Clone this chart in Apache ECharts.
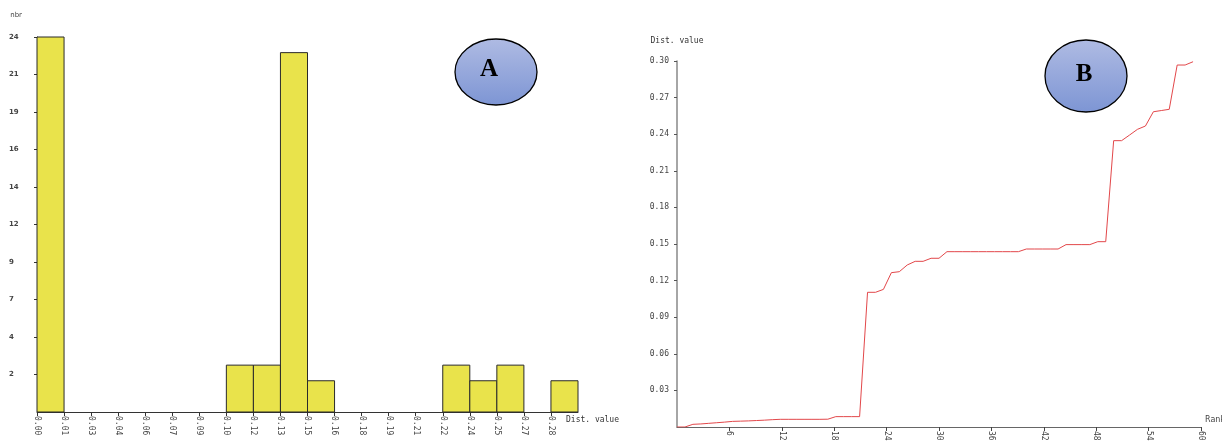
<!DOCTYPE html>
<html><head><meta charset="utf-8">
<script src="https://cdn.jsdelivr.net/npm/echarts@6/dist/echarts.min.js"></script>
<style>html,body{margin:0;padding:0;background:#fff}#c{width:1222px;height:441px}</style>
</head><body><div id="c"></div>
<script>
// ---- Chart A: histogram of distance values ----
const histBinWidth = 0.015;
const histCounts = [24,0,0,0,0,0,0,3,3,23,2,0,0,0,0,3,2,3,0,2];
const histXTickLabels = ['0.00','0.01','0.03','0.04','0.06','0.07','0.09','0.10','0.12','0.13','0.15','0.16','0.18','0.19','0.21','0.22','0.24','0.25','0.27','0.28'];
const histYTickLabels = ['','2','4','7','9','12','14','16','19','21','24'];

// ---- Chart B: distance values sorted by rank ----
const rankValues = [
  0, 0, 0.0022, 0.0025, 0.0030, 0.0035, 0.0040, 0.0046, 0.0048, 0.0050,
  0.0053, 0.0056, 0.0060, 0.0063, 0.0063, 0.0063, 0.0063, 0.0063, 0.0063, 0.0064,
  0.0085, 0.0085, 0.0085, 0.0085, 0.1104, 0.1104, 0.1128, 0.1265, 0.1273, 0.1328,
  0.1358, 0.1358, 0.1383, 0.1383, 0.1437, 0.1437, 0.1437, 0.1437, 0.1437, 0.1437,
  0.1437, 0.1437, 0.1437, 0.1437, 0.1459, 0.1459, 0.1459, 0.1459, 0.1459, 0.1495,
  0.1495, 0.1495, 0.1495, 0.1519, 0.1519, 0.2347, 0.2347, 0.2393, 0.2440, 0.2467,
  0.2584, 0.2594, 0.2604, 0.2967, 0.2967, 0.2994
];
const rankXTickLabels = ['','6','12','18','24','30','36','42','48','54','60'];
const rankYTickLabels = ['','0.03','0.06','0.09','0.12','0.15','0.18','0.21','0.24','0.27','0.30'];

const MONO = '"DejaVu Sans Mono", monospace';
const SANS = '"DejaVu Sans", sans-serif';

const histData = histCounts.map((c, i) => [i * histBinWidth, (i + 1) * histBinWidth, c]).filter(d => d[2] > 0);
const lineData = rankValues.map((v, i) => [i, v]);

const chart = echarts.init(document.getElementById('c'), null, {renderer: 'canvas'});
chart.setOption({
  animation: false,
  backgroundColor: '#fff',
  grid: [
    {left: 37, top: 37, width: 541, height: 375, outerBoundsMode: 'none', containLabel: false},
    {left: 677, top: 61, width: 524, height: 366, outerBoundsMode: 'none', containLabel: false}
  ],
  xAxis: [
    {
      gridIndex: 0, type: 'value', min: 0, max: 0.3, interval: histBinWidth,
      name: 'Dist. value', nameLocation: 'end', nameGap: -12,
      nameTextStyle: {fontFamily: MONO, fontSize: 8, color: '#333', align: 'left', verticalAlign: 'top', padding: [4, 0, 0, 0]},
      axisLine: {show: true, lineStyle: {color: '#333', width: 1}},
      axisTick: {show: true, length: 4, lineStyle: {color: '#333'}},
      axisLabel: {show: true, rotate: -90, margin: 4, fontFamily: MONO, fontSize: 8, color: '#444', showMaxLabel: false,
        formatter: v => histXTickLabels[Math.round(v / histBinWidth)] || ''},
      splitLine: {show: false}
    },
    {
      gridIndex: 1, type: 'value', min: 0, max: 66, interval: 6.6,
      name: 'Rank', nameLocation: 'end', nameGap: 4,
      nameTextStyle: {fontFamily: SANS, fontSize: 8, color: '#444', verticalAlign: 'bottom', padding: [0, 0, 3, 0]},
      axisLine: {show: true, lineStyle: {color: '#666', width: 1}},
      axisTick: {show: true, length: 4, lineStyle: {color: '#444'}},
      axisLabel: {show: true, rotate: -90, margin: 4, fontFamily: MONO, fontSize: 8, color: '#444', showMinLabel: false,
        formatter: v => rankXTickLabels[Math.round(v / 6.6)] || ''},
      splitLine: {show: false}
    }
  ],
  yAxis: [
    {
      gridIndex: 0, type: 'value', min: 0, max: 24, interval: 2.4,
      name: 'nbr', nameLocation: 'end', nameGap: 18,
      nameTextStyle: {fontFamily: SANS, fontSize: 7, color: '#444', align: 'right', padding: [0, 15, 0, 0]},
      axisLine: {show: true, lineStyle: {color: '#333', width: 1}},
      axisTick: {show: true, length: 3, lineStyle: {color: '#333'}},
      axisLabel: {show: true, align: 'left', margin: 28, fontFamily: SANS, fontSize: 7, fontWeight: 'bold', color: '#444', showMinLabel: false,
        formatter: v => histYTickLabels[Math.round(v / 2.4)] || ''},
      splitLine: {show: false}
    },
    {
      gridIndex: 1, type: 'value', min: 0, max: 0.3, interval: 0.03,
      name: 'Dist. value', nameLocation: 'end', nameGap: 16,
      nameTextStyle: {fontFamily: MONO, fontSize: 8, color: '#333'},
      axisLine: {show: true, lineStyle: {color: '#888', width: 1.5}},
      axisTick: {show: true, length: 3, lineStyle: {color: '#555'}},
      axisLabel: {show: true, margin: 8, fontFamily: MONO, fontSize: 8, color: '#444', showMinLabel: false,
        formatter: v => rankYTickLabels[Math.round(v / 0.03)] || ''},
      splitLine: {show: false}
    }
  ],
  series: [
    {
      type: 'custom', xAxisIndex: 0, yAxisIndex: 0, data: histData,
      encode: {x: [0, 1], y: 2},
      renderItem: (params, api) => {
        const p0 = api.coord([api.value(0), api.value(2)]);
        const p1 = api.coord([api.value(1), 0]);
        return {type: 'rect', shape: {x: p0[0], y: p0[1], width: p1[0] - p0[0], height: p1[1] - p0[1]},
          style: {fill: '#E9E34B', stroke: '#2a2a2a', lineWidth: 1}};
      }
    },
    {
      type: 'line', xAxisIndex: 1, yAxisIndex: 1, data: lineData,
      symbol: 'none', lineStyle: {color: '#E2474A', width: 1}
    }
  ],
  graphic: [
    {type: 'ellipse', z: 100, shape: {cx: 496, cy: 72, rx: 41, ry: 33},
      style: {fill: new echarts.graphic.LinearGradient(0, 0, 0, 1, [{offset: 0, color: '#AFBBE3'}, {offset: 1, color: '#7D95D4'}]), stroke: '#000', lineWidth: 1.3}},
    {type: 'text', z: 101, x: 489, y: 70, style: {text: 'A', font: 'bold 25px "Liberation Serif", serif', fill: '#000', align: 'center', verticalAlign: 'middle'}},
    {type: 'ellipse', z: 100, shape: {cx: 1086, cy: 76, rx: 41, ry: 36},
      style: {fill: new echarts.graphic.LinearGradient(0, 0, 0, 1, [{offset: 0, color: '#AFBBE3'}, {offset: 1, color: '#7D95D4'}]), stroke: '#000', lineWidth: 1.3}},
    {type: 'text', z: 101, x: 1084, y: 75, style: {text: 'B', font: 'bold 25px "Liberation Serif", serif', fill: '#000', align: 'center', verticalAlign: 'middle'}}
  ]
});
</script>
</body></html>
